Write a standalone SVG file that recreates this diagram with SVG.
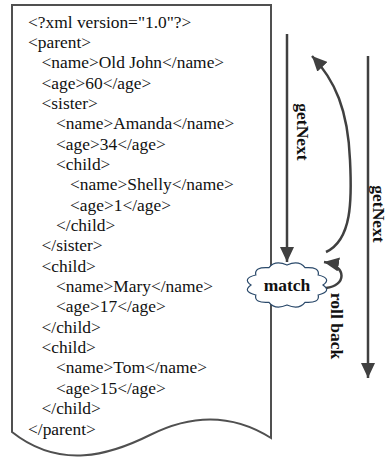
<svg xmlns="http://www.w3.org/2000/svg" width="388" height="460" viewBox="0 0 388 460">
<style>
.x{font-family:"Liberation Serif","Times New Roman",serif;font-size:17.4px;fill:#111}
.b{font-family:"Liberation Serif","Times New Roman",serif;font-size:17.5px;font-weight:bold;fill:#111}
.ln{fill:none;stroke:#404040;stroke-width:2.5}
</style>
<defs>
<marker id="ah" markerUnits="userSpaceOnUse" markerWidth="16" markerHeight="14" refX="15" refY="7" orient="auto">
<path d="M0,0 L15,7 L0,14 Z" fill="#404040"/>
</marker>
</defs>
<g id="document">
<path d="M12,5 H271 V438 C230,412 190,415 150,435 C110,455 60,470 12,432 Z" fill="#fff" stroke="#505050" stroke-width="2"/>
<g class="x">
<text x="28" y="27.5">&lt;?xml version="1.0"?&gt;</text>
<text x="28" y="47.85">&lt;parent&gt;</text>
<text x="41.5" y="68.2">&lt;name&gt;Old John&lt;/name&gt;</text>
<text x="41.5" y="88.55">&lt;age&gt;60&lt;/age&gt;</text>
<text x="41.5" y="108.9">&lt;sister&gt;</text>
<text x="56" y="129.25">&lt;name&gt;Amanda&lt;/name&gt;</text>
<text x="56" y="149.6">&lt;age&gt;34&lt;/age&gt;</text>
<text x="56" y="169.95">&lt;child&gt;</text>
<text x="70" y="190.3">&lt;name&gt;Shelly&lt;/name&gt;</text>
<text x="70" y="210.65">&lt;age&gt;1&lt;/age&gt;</text>
<text x="56" y="231">&lt;/child&gt;</text>
<text x="41.5" y="251.35">&lt;/sister&gt;</text>
<text x="41.5" y="271.7">&lt;child&gt;</text>
<text x="56" y="292.05">&lt;name&gt;Mary&lt;/name&gt;</text>
<text x="56" y="312.4">&lt;age&gt;17&lt;/age&gt;</text>
<text x="41.5" y="332.75">&lt;/child&gt;</text>
<text x="41.5" y="353.1">&lt;child&gt;</text>
<text x="56" y="373.45">&lt;name&gt;Tom&lt;/name&gt;</text>
<text x="56" y="393.8">&lt;age&gt;15&lt;/age&gt;</text>
<text x="41.5" y="414.15">&lt;/child&gt;</text>
<text x="28" y="434.5">&lt;/parent&gt;</text>
</g>
</g>
<g id="connectors">
<path class="ln" d="M287,34 V262" marker-end="url(#ah)"/>
<path class="ln" d="M368,56 V378" marker-end="url(#ah)"/>
<path class="ln" d="M326,252 C352,240 352,200 350,160 C348,110 335,80 312,56" marker-end="url(#ah)"/>
<path class="ln" d="M326,288 C346,286 348,266 324,262" marker-end="url(#ah)"/>
<text class="b" transform="translate(297,132) rotate(90)" text-anchor="middle">getNext</text>
<text class="b" transform="translate(373,214) rotate(90)" text-anchor="middle">getNext</text>
<text class="b" transform="translate(331,326) rotate(90)" text-anchor="middle">roll back</text>
</g>
<g id="match">
<path d="M323,285 Q332.2,291.7 318.2,295 Q320.1,303.4 305,302.3 Q299.1,310.1 287,305 Q274.9,310.1 269,302.3 Q253.9,303.4 255.8,295 Q241.8,291.7 251,285 Q241.8,278.3 255.8,275 Q253.9,266.6 269,267.7 Q274.9,259.9 287,265 Q299.1,259.9 305,267.7 Q320.1,266.6 318.2,275 Q332.2,278.3 323,285 Z" fill="#fff" stroke="#2b4a6b" stroke-width="1.2"/>
<text class="b" x="287" y="291" text-anchor="middle">match</text>
</g>
</svg>
